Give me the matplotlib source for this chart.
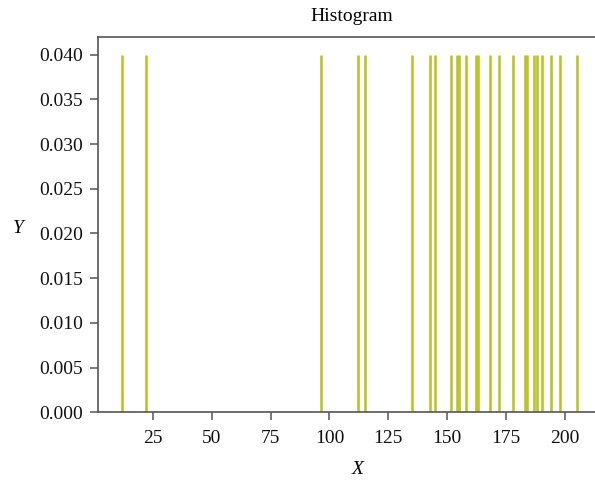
import matplotlib
matplotlib.use("Agg")
import matplotlib.pyplot as plt

# valeurs (une barre par valeur)
valeurs = [12, 22, 96.5, 112, 115, 135, 142.5, 145, 151.5, 154, 155, 158,
           162, 163, 168, 172, 178, 183, 184, 187, 188, 190, 194, 198, 205]
hauteurs = [0.04] * len(valeurs)
yticks = [0.000, 0.005, 0.010, 0.015, 0.020, 0.025, 0.030, 0.035, 0.040]
xticks = [25, 50, 75, 100, 125, 150, 175, 200]

plt.rcParams['font.family'] = ['Liberation Serif', 'DejaVu Serif']
plt.rcParams['font.size'] = 14

fig = plt.figure(figsize=(5.95, 4.82), dpi=100)
ax = fig.add_axes([98/595, 1 - 412.3/482, 1 - 98/595, (412.3 - 36.7)/482])

# barres fines (histogramme a pas de 1)
ax.vlines(valeurs, 0, hauteurs, color='#bcc42a', linewidth=1.9)

ax.set_xlim(1.8, 212.7)
ax.set_ylim(0, 0.042)
ax.set_xticks(xticks)
ax.set_yticks(yticks)
ax.set_yticklabels([f"{v:.3f}" for v in yticks])

for s in ['left', 'bottom', 'top']:
    ax.spines[s].set_color('#555555')
    ax.spines[s].set_linewidth(1.2)
ax.spines['right'].set_visible(False)
ax.tick_params(direction='out', length=6, width=1.1, color='#555555',
               labelcolor='#111111', pad=5)
ax.tick_params(axis='x', pad=7)

ax.text(0.51, 1.054, "Histogram", transform=ax.transAxes, ha='center', va='center')
ax.set_xlabel("X", fontstyle='italic', va='center')
ax.xaxis.set_label_coords(0.523, -0.151)
ax.set_ylabel("Y", fontstyle='italic', rotation=0, va='center', ha='center')
ax.yaxis.set_label_coords(-0.161, 0.49)

fig.savefig("out.png", dpi=100)
